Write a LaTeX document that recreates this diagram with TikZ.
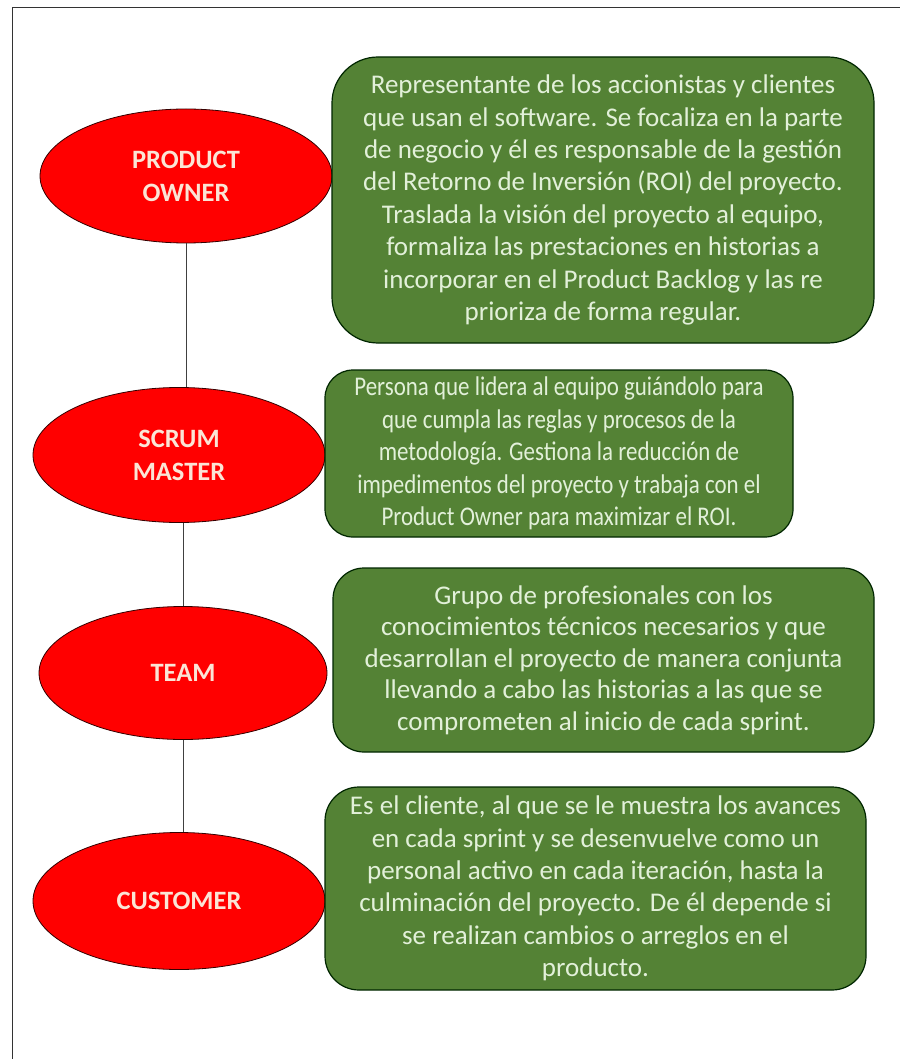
\documentclass[tikz,border=0pt]{standalone}
\usepackage{fontspec}
\setmainfont{Carlito}
\newfontfamily\condA[FakeStretch=0.85]{Carlito}
\usetikzlibrary{shapes.geometric}
\definecolor{boxgreen}{HTML}{548235}
\definecolor{boxtext}{HTML}{E2F0D9}
\definecolor{elltext}{HTML}{FBE5D6}
\definecolor{frame}{HTML}{333333}
\tikzset{
  role/.style={ellipse, draw=black!80!red, line width=0.8pt, fill=red, text=elltext,
    font=\fontsize{26.5}{33}\selectfont\bfseries, align=center, inner sep=0pt},
  desc/.style={rectangle, draw=black!85!green, line width=1.2pt, fill=boxgreen, text=boxtext,
    font=\fontsize{27}{32.4}\selectfont, align=center, inner sep=0pt},
  link/.style={draw=black!75, line width=0.8pt}
}
\begin{document}
\begin{tikzpicture}[x=1pt,y=-1pt]
\useasboundingbox (0,0) rectangle (900,1059);
\fill[white] (0,0) rectangle (900,1059);
\draw[frame, line width=1pt] (12,1059) -- (12,8) -- (900,8);

\node[role, minimum width=292pt, minimum height=134pt] (po) at (186,176) {PRODUCT\\OWNER};
\node[role, minimum width=292pt, minimum height=135pt] (sm) at (179,455) {SCRUM\\MASTER};
\node[role, minimum width=288pt, minimum height=133pt] (tm) at (183,673) {TEAM};
\node[role, minimum width=292pt, minimum height=137pt] (cu) at (179,901) {CUSTOMER};

\draw[link] (po.south) -- (po.south |- sm.north);
\draw[link] (tm.north |- sm.south) -- (tm.north);
\draw[link] (tm.south) -- (tm.south |- cu.north);

\node[desc, rounded corners=46pt, minimum width=542pt, minimum height=286pt] (d1) at (603,200)
 {Representante de los accionistas y clientes\\
  que usan el software. Se focaliza en la parte\\
  de negocio y él es responsable de la gestión\\
  del Retorno de Inversión (ROI) del proyecto.\\
  Traslada la visión del proyecto al equipo,\\
  formaliza las prestaciones en historias a\\
  incorporar en el Product Backlog y las re\\
  prioriza de forma regular.};
\node[desc, font=\condA\fontsize{27}{32.4}\selectfont, rounded corners=28pt, minimum width=468pt, minimum height=167pt] (d2) at (559,453.5)
 {Persona que lidera al equipo guiándolo para\\
  que cumpla las reglas y procesos de la\\
  metodología. Gestiona la reducción de\\
  impedimentos del proyecto y trabaja con el\\
  Product Owner para maximizar el ROI.};
\node[desc, font=\fontsize{27}{31.4}\selectfont, rounded corners=31pt, minimum width=541pt, minimum height=184pt] (d3) at (603.5,660)
 {Grupo de profesionales con los\\
  conocimientos técnicos necesarios y que\\
  desarrollan el proyecto de manera conjunta\\
  llevando a cabo las historias a las que se\\
  comprometen al inicio de cada sprint.};
\node[desc, rounded corners=34pt, minimum width=541pt, minimum height=203pt] (d4) at (595.5,888.5)
 {Es el cliente, al que se le muestra los avances\\
  en cada sprint y se desenvuelve como un\\
  personal activo en cada iteración, hasta la\\
  culminación del proyecto. De él depende si\\
  se realizan cambios o arreglos en el\\
  producto.};
\end{tikzpicture}
\end{document}
